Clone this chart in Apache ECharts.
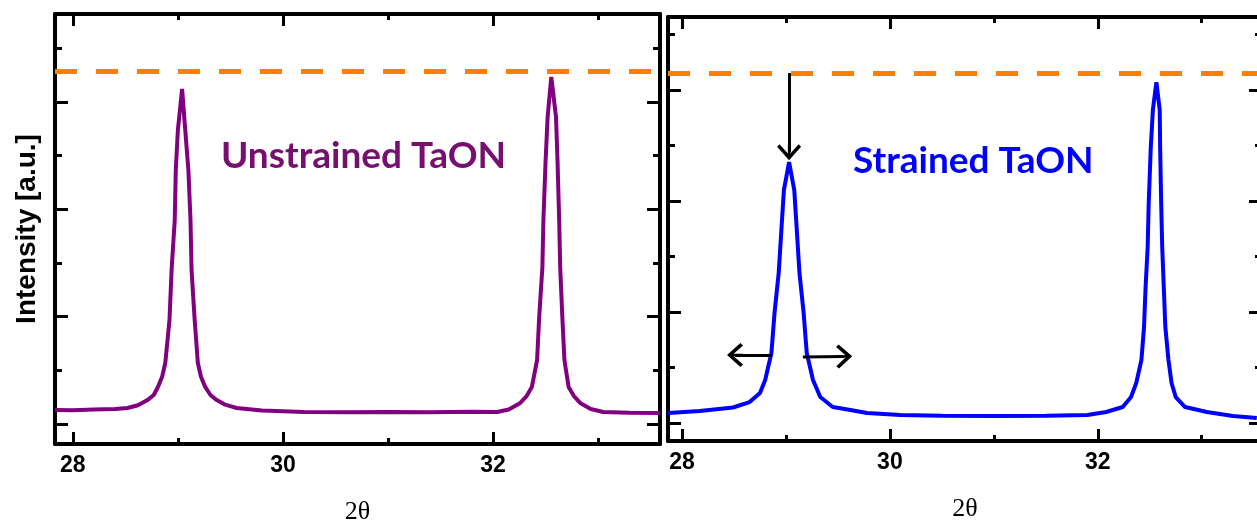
<!DOCTYPE html>
<html>
<head>
<meta charset="utf-8">
<title>TaON XRD</title>
<script src="https://cdn.jsdelivr.net/npm/echarts@6/dist/echarts.min.js"></script>
<style>
  html, body { margin: 0; padding: 0; background: #fff; }
  #chart { width: 1257px; height: 522px; }
</style>
</head>
<body>
<div id="chart"></div>
<script>
// 2θ / intensity (intensity in a.u., long y ticks every 1000)
const unstrainedTheta = [27.83, 28.0, 28.2, 28.4, 28.52, 28.62, 28.71, 28.77, 28.81, 28.85, 28.88, 28.92, 28.94, 28.97, 28.98, 29.0, 29.04,
  29.07, 29.1, 29.12, 29.13, 29.16, 29.19, 29.22, 29.26, 29.31, 29.37, 29.45, 29.56, 29.8, 30.2, 30.6, 31.0, 31.4, 31.8,
  32.04, 32.15, 32.26, 32.32, 32.37, 32.42, 32.44, 32.47, 32.48, 32.5, 32.52, 32.555, 32.6, 32.615, 32.63, 32.64, 32.66,
  32.68, 32.72, 32.77, 32.83, 32.93, 33.05, 33.3, 33.59]
const unstrainedIntensity = [130, 128, 135, 140, 149, 175, 223, 270, 345, 440, 568, 968, 1434, 1899, 2365, 2737, 3120,
  2737, 2365, 1899, 1434, 968, 568, 440, 345, 270, 223, 180, 149, 125, 112, 110, 112, 110, 115,
  112, 135, 196, 260, 345, 596, 1000, 1453, 1899, 2430, 2858, 3230, 2858, 2430, 1899, 1453, 1000,
  596, 345, 260, 196, 140, 112, 105, 102]

const strainedTheta = [27.865, 28.17, 28.49, 28.65, 28.75, 28.8, 28.86, 28.89, 28.93, 28.96, 28.98, 29.03,
  29.08, 29.1, 29.13, 29.17, 29.2, 29.26, 29.33, 29.45, 29.62, 29.78, 30.1, 30.5, 31.0, 31.5, 31.9,
  32.08, 32.24, 32.32, 32.37, 32.42, 32.445, 32.46, 32.48, 32.49, 32.51, 32.53, 32.564, 32.596, 32.6, 32.61,
  32.62, 32.635, 32.65, 32.68, 32.71, 32.75, 32.84, 33.05, 33.3, 33.53]
const strainedIntensity = [90, 108, 140, 189, 270, 387, 631, 991, 1351, 1802, 2099, 2350,
  2099, 1802, 1351, 991, 631, 387, 234, 144, 117, 90, 72, 66, 63, 66, 72,
  99, 144, 234, 360, 568, 865, 1225, 1586, 1982, 2486, 2820, 3070, 2820, 2486, 1982,
  1586, 1225, 865, 568, 360, 234, 144, 99, 63, 45]

// dashed reference level (same physical height in both panels)
const refLevelUnstrained = 3287
const refLevelStrained = 3153

// annotation arrows in the strained panel: [2θ, intensity] start -> end
const arrowDown = [[29.03, 3153], [29.03, 2440]]
const arrowLeft = [[28.865, 613], [28.51, 613]]
const arrowRight = [[29.163, 595], [29.56, 600]]

const xMajorTicks = [28, 30, 32]
const xMinorTicks = [29, 31, 33]
const xLabels = [28, 30, 32]
const yMajorTicks = [0, 1000, 2000, 3000]
const yMinorTicks = [500, 1500, 2500, 3500]

const chevron = 'path://M10,0 L20,10 L18,12 L11,5 L11,12 L9,12 L9,5 L2,12 L0,10 Z'

function zip(xs, ys) {
  return xs.map((x, i) => [x, ys[i]])
}

const tickStyle = { color: '#000', width: 3 }
const frameLine = { show: true, onZero: false, lineStyle: { color: '#000', width: 4 } }

function makeXAxes(gridIndex, min, max) {
  const base = {
    type: 'value', gridIndex, min, max,
    splitLine: { show: false },
    axisLine: { show: false, onZero: false },
    axisLabel: { show: false },
  }
  return [
    {
      ...base, position: 'bottom',
      axisLine: frameLine,
      axisTick: { show: true, inside: true, length: 12, lineStyle: tickStyle, customValues: xMajorTicks },
      axisLabel: {
        show: true, customValues: xLabels, margin: 10, color: '#000',
        fontFamily: 'Liberation Sans', fontWeight: 'bold', fontSize: 23,
      },
      name: '2θ', nameLocation: 'middle', nameGap: 55,
      nameTextStyle: { fontFamily: 'Liberation Serif', fontSize: 26, color: '#000' },
    },
    { ...base, position: 'bottom', axisTick: { show: true, inside: true, length: 6, lineStyle: tickStyle, customValues: xMinorTicks } },
    { ...base, position: 'top', axisLine: frameLine, axisTick: { show: true, inside: true, length: 12, lineStyle: tickStyle, customValues: xMajorTicks } },
    { ...base, position: 'top', axisTick: { show: true, inside: true, length: 6, lineStyle: tickStyle, customValues: xMinorTicks } },
  ]
}

function makeYAxes(gridIndex, min, max, name) {
  const base = {
    type: 'value', gridIndex, min, max,
    splitLine: { show: false },
    axisLine: { show: false, onZero: false },
    axisLabel: { show: false },
  }
  const left = {
    ...base, position: 'left',
    axisLine: frameLine,
    axisTick: { show: true, inside: true, length: 13, lineStyle: tickStyle, customValues: yMajorTicks },
  }
  if (name) {
    Object.assign(left, {
      name, nameLocation: 'middle', nameGap: 14,
      nameTextStyle: { fontFamily: 'Liberation Sans', fontWeight: 'bold', fontSize: 28, color: '#000' },
    })
  }
  return [
    left,
    { ...base, position: 'left', axisTick: { show: true, inside: true, length: 7, lineStyle: tickStyle, customValues: yMinorTicks } },
    { ...base, position: 'right', axisLine: frameLine, axisTick: { show: true, inside: true, length: 13, lineStyle: tickStyle, customValues: yMajorTicks } },
    { ...base, position: 'right', axisTick: { show: true, inside: true, length: 7, lineStyle: tickStyle, customValues: yMinorTicks } },
  ]
}

function refLine(value) {
  return {
    silent: true,
    symbol: 'none',
    label: { show: false },
    lineStyle: { type: [22, 19], width: 5, color: '#ff8000' },
    data: [{ yAxis: value }],
  }
}

function arrow(points) {
  return [
    { coord: points[0], symbol: 'none' },
    { coord: points[1], symbol: chevron, symbolSize: [24, 16] },
  ]
}

const chart = echarts.init(document.getElementById('chart'))

chart.setOption({
  animation: false,
  backgroundColor: '#fff',
  title: [
    {
      text: 'Unstrained TaON', left: 216, top: 133,
      textStyle: { fontFamily: 'Lato', fontWeight: 'bold', fontSize: 37, color: '#770f6f' },
    },
    {
      text: 'Strained TaON', left: 848, top: 138,
      textStyle: { fontFamily: 'Lato', fontWeight: 'bold', fontSize: 37, color: '#0000ff' },
    },
  ],
  grid: [
    { left: 55, top: 14, width: 605, height: 430, outerBoundsMode: 'none' },
    { left: 668, top: 17, width: 594, height: 424, outerBoundsMode: 'none' },
  ],
  xAxis: [
    ...makeXAxes(0, 27.83, 33.59),
    ...makeXAxes(1, 27.865, 33.58),
  ],
  yAxis: [
    ...makeYAxes(0, -186, 3817, 'Intensity [a.u.]'),
    ...makeYAxes(1, -162, 3658),
  ],
  series: [
    {
      name: 'Unstrained TaON',
      type: 'line',
      xAxisIndex: 0,
      yAxisIndex: 0,
      showSymbol: false,
      lineStyle: { width: 4, color: '#800080' },
      itemStyle: { color: '#800080' },
      data: zip(unstrainedTheta, unstrainedIntensity),
      markLine: refLine(refLevelUnstrained),
    },
    {
      name: 'Strained TaON',
      type: 'line',
      xAxisIndex: 4,
      yAxisIndex: 4,
      showSymbol: false,
      lineStyle: { width: 4, color: '#0000ff' },
      itemStyle: { color: '#0000ff' },
      data: zip(strainedTheta, strainedIntensity),
      markLine: refLine(refLevelStrained),
    },
    {
      // arrows only
      type: 'line',
      xAxisIndex: 4,
      yAxisIndex: 4,
      data: [],
      markLine: {
        silent: true,
        label: { show: false },
        lineStyle: { type: 'solid', width: 3, color: '#000' },
        data: [arrow(arrowDown), arrow(arrowLeft), arrow(arrowRight)],
      },
    },
  ],
})
</script>
</body>
</html>
